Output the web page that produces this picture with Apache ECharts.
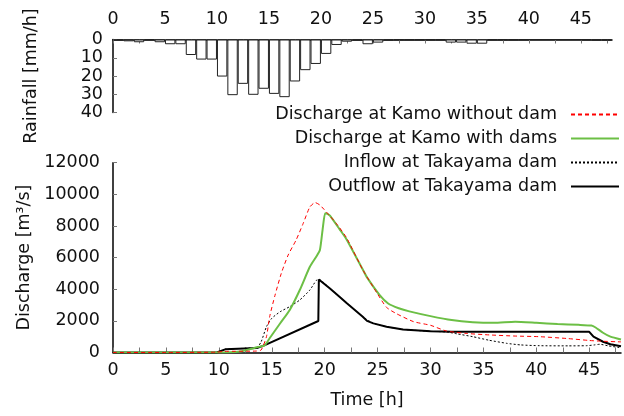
<!DOCTYPE html>
<html>
<head>
<meta charset="utf-8">
<script src="https://cdn.jsdelivr.net/npm/echarts@6/dist/echarts.min.js"></script>
<style>
  html, body { margin: 0; padding: 0; background: #fff; }
  #chart { width: 624px; height: 416px; }
</style>
</head>
<body>
<div id="chart"></div>
<script>
// hourly rainfall [mm/h], hour 0..47
var rainfall = [0.5, 1.0, 1.5, 0.3, 1.5, 2.6, 2.6, 8.5, 11.0, 11.0,
  20.3, 30.5, 24.3, 30.3, 27.0, 29.8, 31.6, 23.0, 16.8, 13.4,
  7.9, 3.0, 1.2, 0.5, 2.6, 1.7, 0.5, 0.3, 0.3, 0.3,
  0.3, 0.3, 1.7, 1.7, 2.3, 2.3, 0.3, 0.3, 0.3, 0.2,
  0, 0, 0, 0, 0, 0.3, 0.5, 0.5];

// [time h, discharge m3/s]
var kamoNoDam = [[0,0],[5,0],[9.8,20],[10.5,70],[13.5,90],[14.0,160],[14.5,1000],[14.8,2260],
  [15.3,3600],[15.9,5000],[16.55,6160],[17.3,7110],[17.97,8160],[18.6,9200],[19.1,9480],
  [19.55,9320],[20.3,8780],[21.1,8160],[22.07,7250],[23.6,5230],[25.0,3700],[25.85,2850],
  [26.8,2450],[28.4,1950],[30,1720],[31.5,1360],[33.5,1200],[35.6,1110],[38,1040],
  [40.3,1000],[43,880],[45,760],[46,720],[48,670]];

var kamoWithDams = [[0,0],[9.5,0],[12,60],[13.6,330],[14.35,470],[14.8,900],[15.8,1850],
  [16.7,2690],[17.65,3950],[18.6,5420],[19.2,6050],[19.55,6480],[19.8,7740],[20.05,8800],
  [20.3,8750],[20.5,8650],[21.4,7800],[22.07,7150],[23.6,5250],[24.0,4750],[25.2,3630],
  [26,3100],[27,2800],[28,2600],[30,2300],[32,2050],[34,1920],[36,1880],[38,1950],
  [40,1880],[42,1800],[44,1750],[45.2,1700],[45.6,1580],[46.3,1250],[47,1000],[48,820]];

var takayamaIn = [[0,0],[9.8,0],[10.6,200],[13.6,330],[14.0,680],[14.5,1630],[15.0,2160],
  [15.8,2580],[16.7,2900],[17.65,3320],[18.6,3950],[19.2,4550],[19.45,4620],[20.5,4050],
  [21.4,3530],[22.07,3130],[23.6,2260],[24.6,1840],[25.85,1630],[27.4,1460],[30,1340],
  [31.5,1300],[32.5,1180],[34,1000],[35.5,780],[37.2,580],[38.5,480],[40.3,430],[43,420],
  [44.75,430],[45.5,480],[46,520],[46.8,420],[48,300]];

var takayamaOut = [[0,0],[9.8,0],[10.6,200],[13.6,280],[14.35,470],[19.4,1990],[19.45,4620],
  [20.5,4050],[21.4,3530],[22.07,3130],[23.6,2260],[24.0,2000],[24.6,1840],[25.85,1630],
  [27.4,1460],[30,1340],[32,1310],[45,1310],[45.4,1000],[46.3,680],[47,520],[48,400]];

var timeTicks = { min: 0, max: 48, interval: 2.5 };
var rainBars = rainfall.map(function(v, i){ return [i + 0.5, v]; });

var font = { fontFamily: 'DejaVu Sans', fontSize: 17.5, color: '#111' };

function xLabel(v){ return v % 5 === 0 ? String(v) : ''; }
function plain(v){ return String(v); }

var myChart = echarts.init(document.getElementById('chart'));
var option = {
  animation: false,
  textStyle: { fontFamily: 'DejaVu Sans' },
  grid: [
    { left: 113, right: 12, top: 39.5, height: 73 },
    { left: 113, right: 3, top: 162.7, bottom: 63.5 }
  ],
  legend: {
    orient: 'vertical',
    align: 'right',
    right: 4,
    top: 105.5,
    padding: 0,
    itemWidth: 48,
    itemHeight: 14,
    itemGap: 6,
    itemStyle: { opacity: 0 },
    textStyle: Object.assign({ padding: [0, 9, 0, 0] }, font),
    data: ['Discharge at Kamo without dam', 'Discharge at Kamo with dams',
      'Inflow at Takayama dam', 'Outflow at Takayama dam']
  },
  xAxis: [
    {
      gridIndex: 0, type: 'value', position: 'top',
      min: timeTicks.min, max: timeTicks.max, interval: timeTicks.interval,
      axisLine: { lineStyle: { color: '#000', width: 1.5 } },
      axisTick: { inside: true, length: 4, lineStyle: { color: '#777' } },
      axisLabel: Object.assign({ margin: 11, formatter: xLabel, showMaxLabel: false }, font),
      splitLine: { show: false }
    },
    {
      gridIndex: 1, type: 'value',
      min: timeTicks.min, max: timeTicks.max, interval: timeTicks.interval,
      name: 'Time [h]', nameLocation: 'middle', nameGap: 39,
      nameTextStyle: font,
      axisLine: { onZero: false, lineStyle: { color: '#000', width: 1.5 } },
      axisTick: { inside: true, length: 5, lineStyle: { color: '#777' } },
      axisLabel: Object.assign({ margin: 9, formatter: xLabel, showMaxLabel: false }, font),
      splitLine: { show: false }
    }
  ],
  yAxis: [
    {
      gridIndex: 0, type: 'value', inverse: true,
      min: 0, max: 40, interval: 10,
      name: 'Rainfall [mm/h]', nameLocation: 'middle', nameGap: 73,
      nameTextStyle: font,
      axisLine: { show: true, lineStyle: { color: '#000', width: 1.5 } },
      axisTick: { show: true, inside: true, length: 4, lineStyle: { color: '#777' } },
      axisLabel: Object.assign({ margin: 10, formatter: plain }, font),
      splitLine: { show: false }
    },
    {
      gridIndex: 1, type: 'value',
      min: 0, max: 12000, interval: 2000,
      name: 'Discharge [m\u00b3/s]', nameLocation: 'middle', nameGap: 73,
      nameTextStyle: font,
      axisLine: { show: true, lineStyle: { color: '#000', width: 1.5 } },
      axisTick: { show: true, inside: true, length: 4, lineStyle: { color: '#777' } },
      axisLabel: Object.assign({ margin: 13, formatter: plain }, font),
      splitLine: { show: false }
    }
  ],
  series: [
    {
      name: 'Rainfall', type: 'bar', xAxisIndex: 0, yAxisIndex: 0,
      barWidth: 10.4,
      itemStyle: { color: '#fff', borderColor: '#222', borderWidth: 1 },
      data: rainBars
    },
    {
      name: 'Outflow at Takayama dam', type: 'line', xAxisIndex: 1, yAxisIndex: 1,
      symbol: 'none', lineStyle: { color: '#000', width: 2 },
      itemStyle: { color: '#000' },
      data: takayamaOut
    },
    {
      name: 'Inflow at Takayama dam', type: 'line', xAxisIndex: 1, yAxisIndex: 1,
      symbol: 'none', smooth: 0.2,
      lineStyle: { color: '#000', width: 1, type: [2, 2] },
      itemStyle: { color: '#000' },
      data: takayamaIn
    },
    {
      name: 'Discharge at Kamo with dams', type: 'line', xAxisIndex: 1, yAxisIndex: 1,
      symbol: 'none', smooth: 0.2,
      lineStyle: { color: '#6cbf45', width: 2 },
      itemStyle: { color: '#6cbf45' },
      data: kamoWithDams
    },
    {
      name: 'Discharge at Kamo without dam', type: 'line', xAxisIndex: 1, yAxisIndex: 1,
      symbol: 'none', smooth: 0.2,
      lineStyle: { color: '#ff0000', width: 1, type: [4, 3] },
      itemStyle: { color: '#ff0000' },
      data: kamoNoDam
    }
  ]
};
myChart.setOption(option);
</script>
</body>
</html>
